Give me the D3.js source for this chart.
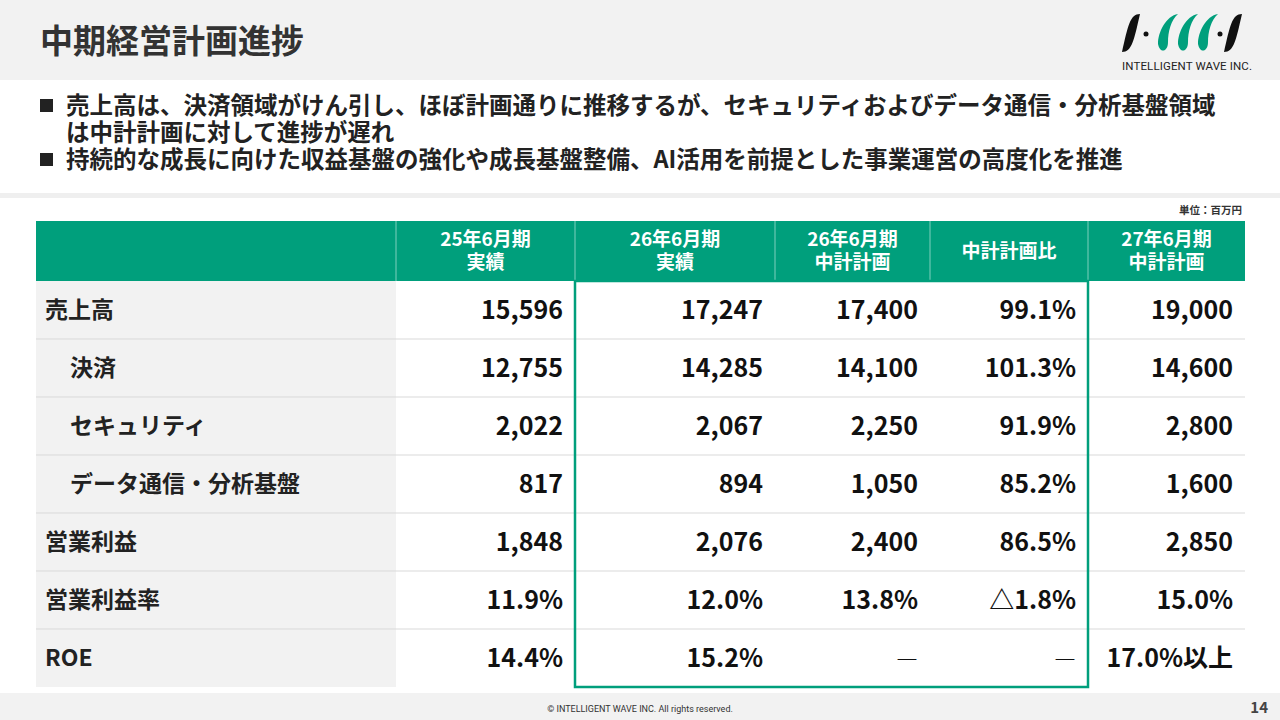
<!DOCTYPE html>
<html lang="ja">
<head>
<meta charset="UTF-8" />
<title>中期経営計画進捗</title>
<style>
  body { margin: 0; background: #fff; font-family: "Noto Sans CJK JP", sans-serif; }
  svg { display: block; }
</style>
</head>
<body>
<svg id="slide" width="1280" height="720" viewBox="0 0 1280 720"></svg>
<script src="https://d3js.org/d3.v7.min.js"></script>
<script>
const headers = [["", ""], ["25年6月期", "実績"], ["26年6月期", "実績"], ["26年6月期", "中計計画"], ["中計計画比"], ["27年6月期", "中計計画"]];
const colWidths = [360, 179, 200, 155, 158, 157];
const rowLabels = ["売上高", "決済", "セキュリティ", "データ通信・分析基盤", "営業利益", "営業利益率", "ROE"];
const indented = [false, true, true, true, false, false, false];
const fy25Actual = ["15,596", "12,755", "2,022", "817", "1,848", "11.9%", "14.4%"];
const fy26Actual = ["17,247", "14,285", "2,067", "894", "2,076", "12.0%", "15.2%"];
const fy26Plan = ["17,400", "14,100", "2,250", "1,050", "2,400", "13.8%", "―"];
const vsPlan = ["99.1%", "101.3%", "91.9%", "85.2%", "86.5%", "△1.8%", "―"];
const fy27Plan = ["19,000", "14,600", "2,800", "1,600", "2,850", "15.0%", "17.0%以上"];
const bullets = [
  ["売上高は、決済領域がけん引し、ほぼ計画通りに推移するが、セキュリティおよびデータ通信・分析基盤領域", "は中計計画に対して進捗が遅れ"],
  ["持続的な成長に向けた収益基盤の強化や成長基盤整備、AI活用を前提とした事業運営の高度化を推進"]
];

const green = "#009f7c";
const svg = d3.select("#slide");

// title band
svg.append("rect").attr("width", 1280).attr("height", 80).attr("fill", "#f2f2f2");
svg.append("text").attr("x", 40).attr("y", 53).attr("font-size", 33).attr("font-weight", 700)
  .attr("fill", "#333").text("中期経営計画進捗");

// logo
const logo = svg.append("g").attr("transform", "translate(1122,12)");
const strokes = [[0, "#111"], [34, green], [54, green], [74, green], [102, "#111"]];
strokes.forEach(([x, c], i) => {
  logo.append("path")
    .attr("d", (i === 0 || i === 4)
      ? `M${x + 18},2 C${x + 8},2 ${x + 6},14 ${x},40 C${x + 10},40 ${x + 12},28 ${x + 18},2Z`
      : `M${x + 22},2 C${x + 10},4 ${x + 2},20 ${x + 2},32 C${x + 4},42 ${x + 12},40 ${x + 12},30 C${x + 12},20 ${x + 15},8 ${x + 22},2Z`)
    .attr("fill", c);
});
[[24, 22], [98, 22]].forEach(([x, y]) => logo.append("circle").attr("cx", x).attr("cy", y).attr("r", 2.5).attr("fill", "#111"));
logo.append("text").attr("x", 0).attr("y", 58).attr("font-size", 11.5).attr("font-family", "Roboto, sans-serif")
  .attr("fill", "#222").attr("textLength", 130).text("INTELLIGENT WAVE INC.");

// bullets
let by = 114;
bullets.forEach(lines => {
  svg.append("rect").attr("x", 40).attr("y", by - 15).attr("width", 13).attr("height", 13).attr("fill", "#222");
  lines.forEach((l, i) => {
    svg.append("text").attr("x", 66).attr("y", by + i * 27).attr("font-size", 23.5).attr("font-weight", 700)
      .attr("fill", "#222").text(l);
  });
  by += lines.length * 27;
});
svg.append("rect").attr("y", 193).attr("width", 1280).attr("height", 5).attr("fill", "#efefef");
svg.append("text").attr("x", 1242).attr("y", 214).attr("text-anchor", "end").attr("font-size", 10.5)
  .attr("font-weight", 700).attr("fill", "#333").text("単位：百万円");

// table
const colEdges = d3.cumsum([36, ...colWidths]);
const colX = i => colEdges[i];
const tableLeft = colEdges[0], tableRight = colEdges[colEdges.length - 1];
const headTop = 221, headH = 60;
const y = d3.scaleBand().domain(rowLabels).range([headTop + headH, 687]);
const columns = [fy25Actual, fy26Actual, fy26Plan, vsPlan, fy27Plan];

svg.append("rect").attr("x", tableLeft).attr("y", headTop).attr("width", tableRight - tableLeft)
  .attr("height", headH).attr("fill", green);
headers.forEach((h, i) => {
  if (i > 0) {
    svg.append("line").attr("x1", colX(i)).attr("x2", colX(i)).attr("y1", headTop).attr("y2", headTop + headH)
      .attr("stroke", "#7fcfbd").attr("stroke-width", 1);
  }
  const cx = colX(i) + colWidths[i] / 2;
  h.forEach((t, k) => {
    svg.append("text").attr("x", cx).attr("y", headTop + headH / 2 + (h.length === 1 ? 7 : k * 23 - 5))
      .attr("text-anchor", "middle").attr("font-size", 19).attr("font-weight", 700).attr("fill", "#fff").text(t);
  });
});

svg.append("rect").attr("x", tableLeft).attr("y", y.range()[0]).attr("width", colWidths[0])
  .attr("height", y.range()[1] - y.range()[0]).attr("fill", "#f2f2f2");

rowLabels.forEach((r, ri) => {
  const ry = y(r);
  if (ri > 0) {
    svg.append("line").attr("x1", tableLeft).attr("x2", tableRight).attr("y1", ry).attr("y2", ry)
      .attr("stroke", "#d9d9d9");
  }
  svg.append("text").attr("x", tableLeft + (indented[ri] ? 34 : 9)).attr("y", ry + y.bandwidth() / 2 + 8)
    .attr("font-size", 23).attr("font-weight", 700).attr("fill", "#222").text(r);
  columns.forEach((col, ci) => {
    const v = col[ri];
    const isDash = v === "―";
    svg.append("text").attr("x", colX(ci + 2) - 12).attr("y", ry + y.bandwidth() / 2 + 9)
      .attr("text-anchor", "end").attr("font-size", isDash ? 22 : 25).attr("font-weight", isDash ? 400 : 700)
      .attr("fill", "#111").text(v);
  });
});

// highlight box for FY26 columns
svg.append("rect").attr("x", colX(2)).attr("y", y.range()[0]).attr("width", colX(5) - colX(2))
  .attr("height", y.range()[1] - y.range()[0]).attr("fill", "none").attr("stroke", green).attr("stroke-width", 2.5);

// footer
svg.append("rect").attr("y", 693).attr("width", 1280).attr("height", 27).attr("fill", "#f2f2f2");
svg.append("text").attr("x", 640).attr("y", 712).attr("text-anchor", "middle").attr("font-size", 9)
  .attr("font-family", "Roboto, sans-serif").attr("fill", "#333").text("© INTELLIGENT WAVE INC. All rights reserved.");
svg.append("text").attr("x", 1268).attr("y", 713).attr("text-anchor", "end").attr("font-size", 15)
  .attr("font-weight", 700).attr("fill", "#444").text("14");
</script>
</body>
</html>
